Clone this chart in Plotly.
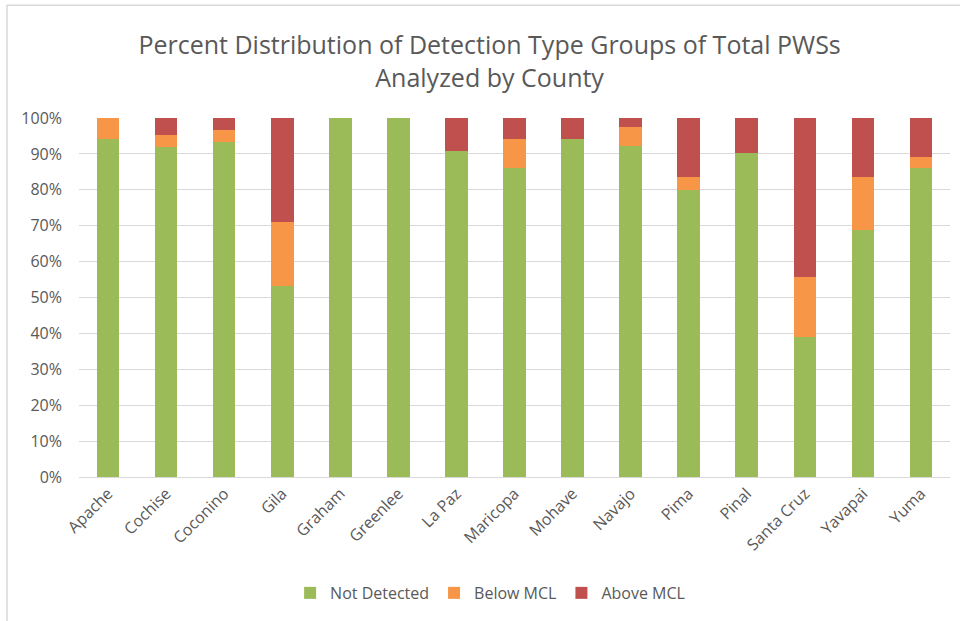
import plotly.graph_objects as go

counties = ["Apache", "Cochise", "Coconino", "Gila", "Graham", "Greenlee", "La Paz",
            "Maricopa", "Mohave", "Navajo", "Pima", "Pinal", "Santa Cruz", "Yavapai", "Yuma"]
not_detected = [94.2, 91.9, 93.3, 53.3, 100, 100, 90.8, 86.1, 94.2, 92.2, 80.0, 90.3, 39.0, 68.8, 86.0]
below_mcl = [5.8, 3.4, 3.4, 17.8, 0, 0, 0, 8.1, 0, 5.3, 3.6, 0, 16.7, 14.8, 3.2]
above_mcl = [0, 4.7, 3.3, 28.9, 0, 0, 9.2, 5.8, 5.8, 2.5, 16.4, 9.7, 44.3, 16.4, 10.8]

series = [("Not Detected", not_detected, "#9BBB59"),
          ("Below MCL", below_mcl, "#F79646"),
          ("Above MCL", above_mcl, "#C0504D")]

FONT = "Open Sans"
GRAY = "#595959"

fig = go.Figure()
for name, vals, color in series:
    fig.add_trace(go.Bar(x=counties, y=[v / 100 for v in vals], name=name,
                         marker=dict(color=color, line=dict(width=0))))

fig.update_layout(
    barmode="stack",
    bargap=0.61,
    width=960, height=621,
    paper_bgcolor="white", plot_bgcolor="white",
    margin=dict(l=79, r=10, t=118, b=144),
    font=dict(family=FONT, color=GRAY, size=16),
    title=dict(text="Percent Distribution of Detection Type Groups of Total PWSs<br>Analyzed by County",
               x=0.51, xref="container", xanchor="center",
               y=0.913, yref="container", yanchor="middle",
               font=dict(family=FONT, size=25, color=GRAY)),
    legend=dict(orientation="h", x=0.472, xanchor="center", y=-0.323, yanchor="middle",
                font=dict(family=FONT, size=16, color=GRAY), traceorder="normal",
                itemwidth=30),
    shapes=[dict(type="rect", xref="paper", yref="paper",
                 x0=-0.0827, x1=1.0138, y0=-0.41, y1=1.314,
                 line=dict(color="#d9d9d9", width=1.5), layer="below")],
)
fig.update_yaxes(range=[0, 1], tickformat=".0%", dtick=0.1, showgrid=True,
                 gridcolor="#d9d9d9", gridwidth=1, zeroline=False, showline=False,
                 ticks="", ticklabelstandoff=16, tickfont=dict(size=16, color=GRAY))
fig.update_xaxes(tickangle=-45, showline=True, linecolor="#d9d9d9", linewidth=1,
                 ticks="", tickfont=dict(size=16, color=GRAY))

fig.write_html("out.html", config={"displayModeBar": False},
               post_script="document.body.style.margin='0px';")
